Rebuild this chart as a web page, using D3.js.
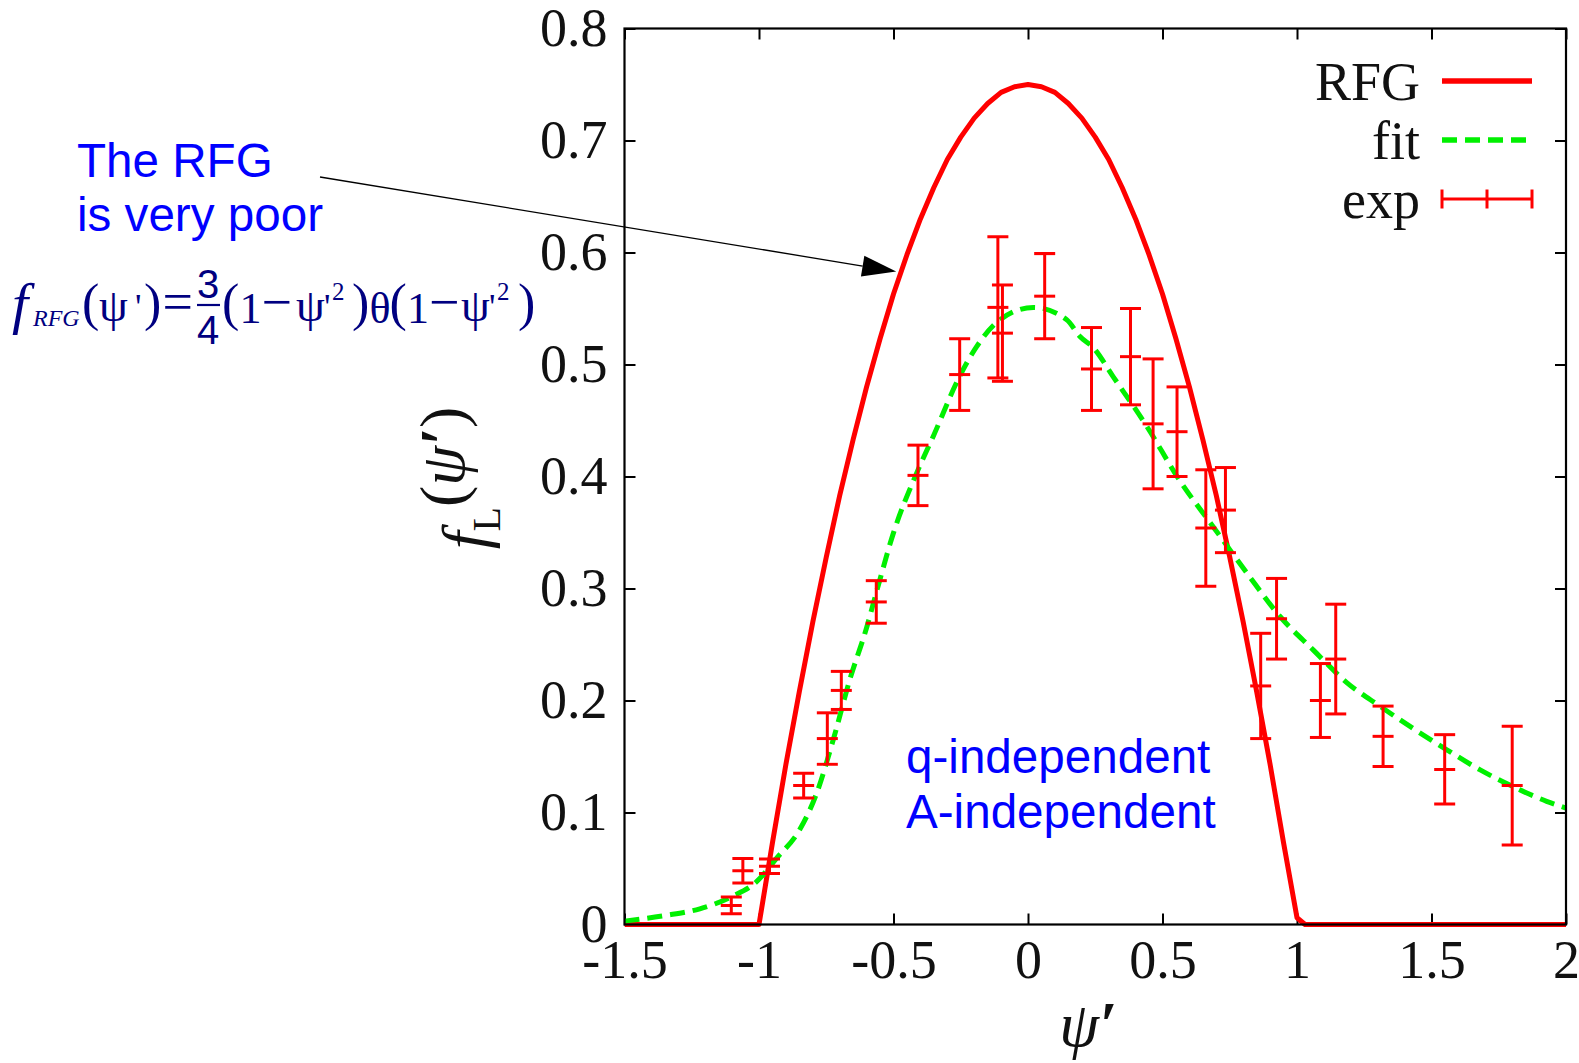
<!DOCTYPE html>
<html>
<head>
<meta charset="utf-8">
<script src="https://cdn.jsdelivr.net/npm/d3@7"></script>
<style>
  html, body { margin: 0; padding: 0; background: #fff; }
  svg { display: block; }
</style>
</head>
<body>
<svg id="chart" width="1579" height="1063"></svg>
<script>
// ---- data ----
const xTicks = [-1.5, -1, -0.5, 0, 0.5, 1, 1.5, 2];
const xTickLabels = ["-1.5", "-1", "-0.5", "0", "0.5", "1", "1.5", "2"];
const yTicks = [0, 0.1, 0.2, 0.3, 0.4, 0.5, 0.6, 0.7, 0.8];
const yTickLabels = ["0", "0.1", "0.2", "0.3", "0.4", "0.5", "0.6", "0.7", "0.8"];

// relativistic Fermi gas scaling function
const rfgX = [-1.5, -1.0, -0.95, -0.9, -0.85, -0.8, -0.75, -0.7, -0.65, -0.6, -0.55, -0.5,
              -0.45, -0.4, -0.35, -0.3, -0.25, -0.2, -0.15, -0.1, -0.05, 0.0,
              0.05, 0.1, 0.15, 0.2, 0.25, 0.3, 0.35, 0.4, 0.45, 0.5, 0.55, 0.6, 0.65,
              0.7, 0.75, 0.8, 0.85, 0.9, 0.95, 1.0, 1.03, 2.0];
const rfgY = [0, 0, 0.073, 0.143, 0.208, 0.270, 0.328, 0.383, 0.433, 0.480, 0.523, 0.563,
              0.598, 0.630, 0.658, 0.683, 0.703, 0.720, 0.733, 0.743, 0.748, 0.750,
              0.748, 0.743, 0.733, 0.720, 0.703, 0.683, 0.658, 0.630, 0.598, 0.563, 0.523, 0.480, 0.433,
              0.383, 0.328, 0.270, 0.208, 0.143, 0.073, 0.006, 0, 0];

// phenomenological fit
const fitX = [-1.5, -1.35, -1.22, -1.10, -1.01, -0.935, -0.848, -0.786, -0.724, -0.662, -0.600,
              -0.562, -0.501, -0.414, -0.352, -0.253, -0.191, -0.104, 0.020, 0.144, 0.193, 0.243,
              0.317, 0.441, 0.565, 0.689, 0.813, 0.937, 1.061, 1.185, 1.308, 1.432, 1.557,
              1.681, 1.804, 1.928, 2.0];
const fitY = [0.003, 0.008, 0.014, 0.025, 0.038, 0.059, 0.085, 0.117, 0.165, 0.219, 0.265,
              0.298, 0.349, 0.403, 0.436, 0.490, 0.516, 0.540, 0.551, 0.540, 0.525, 0.515,
              0.489, 0.445, 0.396, 0.355, 0.314, 0.275, 0.245, 0.216, 0.195, 0.175, 0.156,
              0.138, 0.123, 0.110, 0.104];

// experimental points with errors
const expX = [-1.103, -1.060, -0.961, -0.834, -0.746, -0.694, -0.564, -0.409, -0.254, -0.112,
              -0.095, 0.062, 0.236, 0.381, 0.465, 0.554, 0.661, 0.734, 0.865, 0.924, 1.087,
              1.144, 1.320, 1.549, 1.800];
const expY = [0.017, 0.048, 0.052, 0.124, 0.166, 0.209, 0.288, 0.401, 0.491, 0.551,
              0.528, 0.561, 0.496, 0.507, 0.447, 0.440, 0.354, 0.370, 0.213, 0.273, 0.200,
              0.237, 0.168, 0.1385, 0.124];
const expErr = [0.0075, 0.011, 0.0065, 0.011, 0.023, 0.017, 0.019, 0.027, 0.032, 0.063,
                0.043, 0.038, 0.037, 0.043, 0.058, 0.040, 0.052, 0.038, 0.047, 0.036, 0.033,
                0.049, 0.027, 0.031, 0.053];

const legendLabels = ["RFG", "fit", "exp"];

// ---- layout ----
const svg = d3.select("#chart");
const plotL = 624.5, plotR = 1566, plotT = 28.5, plotB = 924.5;
const x = d3.scaleLinear().domain([-1.5, 2]).range([plotL, plotR]);
const y = d3.scaleLinear().domain([0, 0.8]).range([plotB, plotT]);

const serif = "'Liberation Serif', 'Times New Roman', serif";
const sans = "'Liberation Sans', Arial, sans-serif";
const tickFont = 54;
const RED = "#ff0000", GREEN = "#00f000";

svg.append("defs").append("clipPath").attr("id", "plotclip")
  .append("rect").attr("x", plotL).attr("y", plotT - 4)
  .attr("width", plotR - plotL).attr("height", plotB - plotT + 8);

// ---- axes (ticks pointing inward, mirrored on all sides) ----
function styleAxis(g) {
  g.select(".domain").remove();
  g.selectAll(".tick line").attr("stroke", "#000").attr("stroke-width", 2);
  g.selectAll(".tick text").attr("fill", "#111")
    .style("font-family", serif).style("font-size", tickFont + "px");
}
svg.append("g").attr("transform", `translate(0,${plotB})`)
  .call(d3.axisBottom(x).tickValues(xTicks).tickFormat((d, i) => xTickLabels[i])
    .tickSizeInner(-11).tickSizeOuter(0).tickPadding(15))
  .call(styleAxis);
svg.append("g").attr("transform", `translate(0,${plotT})`)
  .call(d3.axisTop(x).tickValues(xTicks).tickFormat("")
    .tickSizeInner(-11).tickSizeOuter(0))
  .call(styleAxis);
svg.append("g").attr("transform", `translate(${plotL},0)`)
  .call(d3.axisLeft(y).tickValues(yTicks).tickFormat((d, i) => yTickLabels[i])
    .tickSizeInner(-11).tickSizeOuter(0).tickPadding(17))
  .call(styleAxis);
svg.append("g").attr("transform", `translate(${plotR},0)`)
  .call(d3.axisRight(y).tickValues(yTicks).tickFormat("")
    .tickSizeInner(-11).tickSizeOuter(0))
  .call(styleAxis);

// ---- curves ----
const plot = svg.append("g").attr("clip-path", "url(#plotclip)");
const rfgLine = d3.line().x(d => x(d[0])).y(d => y(d[1])).curve(d3.curveLinear);
plot.append("path")
  .datum(rfgX.map((v, i) => [v, rfgY[i]]))
  .attr("d", rfgLine)
  .attr("fill", "none").attr("stroke", RED).attr("stroke-width", 5)
  .attr("stroke-linejoin", "round");

const fitLine = d3.line().x(d => x(d[0])).y(d => y(d[1])).curve(d3.curveMonotoneX);
plot.append("path")
  .datum(fitX.map((v, i) => [v, fitY[i]]))
  .attr("d", fitLine)
  .attr("fill", "none").attr("stroke", GREEN).attr("stroke-width", 5)
  .attr("stroke-dasharray", "15,8");

// ---- error bars ----
const capW = 21;
const eb = plot.append("g").attr("stroke", RED).attr("stroke-width", 3);
expX.forEach((xv, i) => {
  const cx = x(xv), lo = y(expY[i] - expErr[i]), hi = y(expY[i] + expErr[i]), c = y(expY[i]);
  eb.append("line").attr("x1", cx).attr("x2", cx).attr("y1", lo).attr("y2", hi);
  [lo, c, hi].forEach(yy => eb.append("line")
    .attr("x1", cx - capW / 2).attr("x2", cx + capW / 2).attr("y1", yy).attr("y2", yy));
});

// frame
svg.append("rect").attr("x", plotL).attr("y", plotT)
  .attr("width", plotR - plotL).attr("height", plotB - plotT)
  .attr("fill", "none").attr("stroke", "#000").attr("stroke-width", 2.2);

// ---- legend ----
const legTextX = 1420, legX1 = 1442, legX2 = 1532;
const legRows = [81, 140, 199];
legendLabels.forEach((lab, i) => {
  svg.append("text").attr("x", legTextX).attr("y", legRows[i] + 19)
    .attr("text-anchor", "end").attr("fill", "#111")
    .style("font-family", serif).style("font-size", tickFont + "px").text(lab);
});
svg.append("line").attr("x1", legX1).attr("x2", legX2).attr("y1", legRows[0]).attr("y2", legRows[0])
  .attr("stroke", RED).attr("stroke-width", 5.5);
svg.append("line").attr("x1", legX1).attr("x2", legX2).attr("y1", legRows[1]).attr("y2", legRows[1])
  .attr("stroke", GREEN).attr("stroke-width", 5.5).attr("stroke-dasharray", "15,8");
const legEb = svg.append("g").attr("stroke", RED).attr("stroke-width", 3);
legEb.append("line").attr("x1", legX1).attr("x2", legX2).attr("y1", legRows[2]).attr("y2", legRows[2]);
[legX1, (legX1 + legX2) / 2, legX2].forEach(xx => legEb.append("line")
  .attr("x1", xx).attr("x2", xx).attr("y1", legRows[2] - 9.5).attr("y2", legRows[2] + 9.5));

// ---- axis titles ----
const yTitle = svg.append("text")
  .attr("transform", "translate(486,478) rotate(-90)")
  .attr("text-anchor", "middle").attr("fill", "#111")
  .style("font-family", serif).style("font-size", "64px").style("font-style", "italic");
yTitle.append("tspan").text("f");
yTitle.append("tspan").attr("dy", "0.36em").style("font-size", "40px").style("font-style", "normal").text("L");
yTitle.append("tspan").attr("dy", "-0.57em").style("font-style", "normal").text("(");
yTitle.append("tspan").text("ψ");
yTitle.append("tspan").style("font-weight", "bold").text("′");
yTitle.append("tspan").style("font-style", "normal").text(")");

const xTitle = svg.append("text").attr("x", 1088).attr("y", 1046)
  .attr("text-anchor", "middle").attr("fill", "#111")
  .style("font-family", serif).style("font-size", "64px").style("font-style", "italic");
xTitle.append("tspan").text("ψ");
xTitle.append("tspan").style("font-weight", "bold").text("′");

// ---- annotations ----
const BLUE = "#0000ff", NAVY = "#000080";
svg.append("text").attr("x", 77).attr("y", 177).attr("fill", BLUE)
  .style("font-family", sans).style("font-size", "47.6px").text("The RFG");
svg.append("text").attr("x", 77).attr("y", 231).attr("fill", BLUE)
  .style("font-family", sans).style("font-size", "47.6px").text("is very poor");
svg.append("text").attr("x", 906).attr("y", 773).attr("fill", BLUE)
  .style("font-family", sans).style("font-size", "47.6px").text("q-independent");
svg.append("text").attr("x", 906).attr("y", 828).attr("fill", BLUE)
  .style("font-family", sans).style("font-size", "47.6px").text("A-independent");

// arrow pointing at the RFG curve
const arrowStart = [320, 177];
const arrowTip = [x(-0.49), y(0.583)];
{
  const dx = arrowTip[0] - arrowStart[0], dy = arrowTip[1] - arrowStart[1];
  const len = Math.hypot(dx, dy), ux = dx / len, uy = dy / len;
  const hl = 34, hw = 10.5;
  const bx = arrowTip[0] - ux * hl, by = arrowTip[1] - uy * hl;
  svg.append("line").attr("x1", arrowStart[0]).attr("y1", arrowStart[1])
    .attr("x2", bx).attr("y2", by).attr("stroke", "#000").attr("stroke-width", 1.3);
  svg.append("path")
    .attr("d", `M${arrowTip[0]},${arrowTip[1]} L${bx - uy * hw},${by + ux * hw} L${bx + uy * hw},${by - ux * hw} Z`)
    .attr("fill", "#000");
}

// formula f_RFG(ψ') = 3/4 (1-ψ'^2) θ(1-ψ'^2)
const formula = svg.append("g").attr("fill", NAVY).style("font-family", serif);
const pieces = [
  ["f", 12, 323, 58, "italic"],
  ["RFG", 33, 326, 24, "italic"],
  ["(", 82, 320, 52, "normal"],
  ["ψ", 99, 321, 46, "normal"],
  ["'", 135, 319, 36, "normal"],
  [")", 144, 320, 52, "normal"],
  ["=", 162.5, 320, 54, "normal"],
  ["(", 222, 320, 52, "normal"],
  ["1", 239.5, 323, 44, "normal"],
  ["−", 261.5, 320, 54, "normal"],
  ["ψ", 296, 321, 46, "normal"],
  ["'", 324, 319, 36, "normal"],
  ["2", 332, 300, 25, "normal"],
  [")", 352, 320, 52, "normal"],
  ["θ", 369.5, 323, 44, "normal"],
  ["(", 389.5, 320, 52, "normal"],
  ["1", 407, 323, 44, "normal"],
  ["−", 429, 320, 54, "normal"],
  ["ψ", 461, 321, 46, "normal"],
  ["'", 489, 319, 36, "normal"],
  ["2", 497, 300, 25, "normal"],
  [")", 518, 320, 52, "normal"]
];
pieces.forEach(p => formula.append("text").attr("x", p[1]).attr("y", p[2])
  .style("font-size", p[3] + "px").style("font-style", p[4]).text(p[0]));
formula.append("text").attr("x", 208).attr("y", 298).attr("text-anchor", "middle")
  .style("font-family", sans).style("font-size", "40px").text("3");
formula.append("text").attr("x", 208).attr("y", 344).attr("text-anchor", "middle")
  .style("font-family", sans).style("font-size", "40px").text("4");
formula.append("line").attr("x1", 197).attr("x2", 220).attr("y1", 305).attr("y2", 305)
  .attr("stroke", NAVY).attr("stroke-width", 2.2);
</script>
</body>
</html>
